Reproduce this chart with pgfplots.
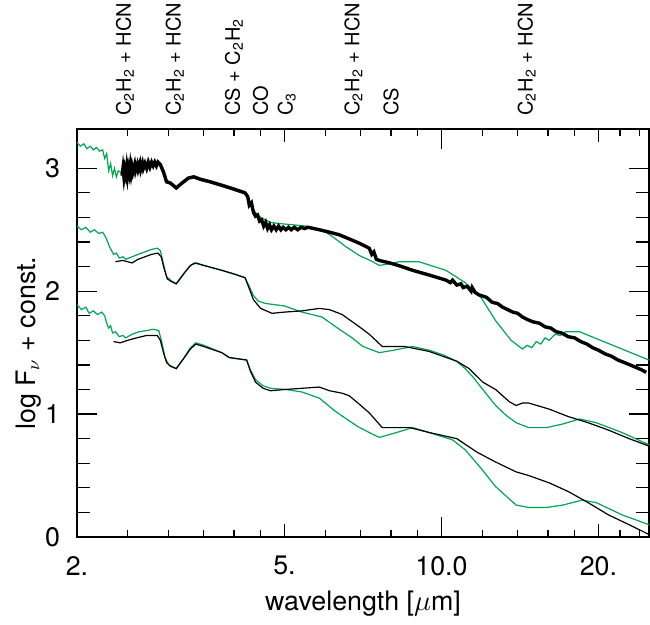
\documentclass[border=0pt]{standalone}
\usepackage{fontspec}
\setmainfont{TeX Gyre Heros}
\usepackage{pgfplots}
\pgfplotsset{compat=1.18}
\definecolor{modelgreen}{RGB}{0,166,81}
\newcommand{\sub}[1]{\textsubscript{#1}}
\begin{document}
\begin{tikzpicture}
% long ticks: y axis and the 10 micron tick
\begin{axis}[
  scale only axis, width=286pt, height=204pt,
  xmode=log, xmin=2, xmax=25, ymin=0, ymax=3.32,
  axis line style={line width=0.8pt},
  tick align=inside,
  every tick/.style={black, line width=0.6pt},
  major tick length=10pt, minor tick length=6.5pt,
  xtick={10}, xticklabels={}, xminorticks=false,
  ytick={0,1,2,3}, yticklabels={}, minor y tick num=4,
]
\addplot[draw=none] coordinates {(3,1)};
\end{axis}
\begin{axis}[
  scale only axis, width=286pt, height=204pt,
  xmode=log, xmin=2, xmax=25, ymin=0, ymax=3.32,
  axis line style={line width=0.8pt},
  tick align=inside,
  every tick/.style={black, line width=0.6pt},
  major tick length=6.5pt, minor tick length=3.5pt,
  xtick={2,5,10,20}, xticklabels={2.,5.,10.0,20.},
  minor xtick={2.5,3,3.5,4,4.5,6,7,8,9,12,14,16,18,22,24},
  ytick={0,1,2,3}, yticklabels={0,1,2,3}, minor y tick num=4,
  ticklabel style={font=\fontsize{13.4}{16}\selectfont},
  xticklabel style={yshift=-6pt},
  yticklabel style={xshift=-5pt},
  xlabel={wavelength [$\mu$m]},
  xlabel style={at={(axis description cs:0.5,-0.179)}, anchor=base, font=\fontsize{13.4}{16}\selectfont},
  ylabel={log F$_\nu$ + const.},
  ylabel style={at={(axis description cs:-0.0734,0.475)}, anchor=base, font=\fontsize{13.4}{16}\selectfont},
  clip mode=individual,
]
% top pair: observed (thick black) and model (green)
\addplot[modelgreen, line width=0.6pt] coordinates {
(2.0,3.21)(2.03,3.18)(2.06,3.20)(2.09,3.16)(2.12,3.18)(2.15,3.15)(2.18,3.17)(2.21,3.14)
(2.24,3.15)(2.26,3.08)(2.28,3.12)(2.30,2.98)(2.32,3.04)(2.34,2.94)(2.36,3.00)(2.38,2.93)
(2.40,2.98)(2.44,2.96)(2.5,3.00)(2.6,3.02)(2.7,3.03)(2.8,3.04)(2.88,3.05)(2.93,2.98)
(2.97,2.90)(3.02,2.89)(3.10,2.85)(3.18,2.89)(3.27,2.93)(3.35,2.94)(3.45,2.92)(3.6,2.90)
(3.8,2.87)(4.0,2.84)(4.2,2.81)(4.26,2.76)(4.3,2.70)(4.4,2.64)(4.5,2.60)(4.7,2.56)
(4.9,2.55)(5.2,2.54)(5.5,2.53)(5.9,2.50)(6.2,2.44)(6.57,2.36)(6.96,2.29)(7.3,2.25)
(7.6,2.21)(7.9,2.22)(8.3,2.24)(9.05,2.24)(10.2,2.17)(11.1,2.07)(11.9,1.95)(12.7,1.76)
(13.6,1.60)(14.3,1.53)(14.6,1.56)(14.9,1.54)(15.2,1.59)(15.5,1.57)(15.8,1.62)(16.1,1.60)
(16.5,1.65)(16.9,1.64)(17.3,1.67)(18.4,1.67)(21.3,1.56)(25,1.44)};
\addplot[black, line width=1.7pt] coordinates {
(2.44,2.94)(2.45,3.00)(2.46,2.93)(2.47,2.99)(2.48,2.95)(2.49,3.01)(2.50,2.94)(2.51,3.00)
(2.52,2.96)(2.53,3.02)(2.54,2.96)(2.55,3.01)(2.56,2.97)(2.58,3.03)(2.59,2.98)(2.61,3.03)
(2.62,2.99)(2.64,3.04)(2.65,2.99)(2.67,3.04)(2.68,3.00)(2.70,3.04)(2.72,3.00)(2.74,3.05)
(2.76,3.01)(2.78,3.05)(2.80,3.02)(2.82,3.05)(2.84,3.02)(2.86,3.05)(2.89,3.03)(2.93,2.97)
(2.97,2.89)(3.02,2.88)(3.10,2.84)(3.18,2.88)(3.27,2.92)(3.35,2.93)(3.45,2.91)(3.6,2.89)
(3.8,2.86)(4.0,2.83)(4.2,2.80)(4.25,2.77)(4.28,2.70)(4.32,2.72)(4.36,2.64)(4.40,2.61)
(4.44,2.62)(4.48,2.57)(4.52,2.58)(4.56,2.53)(4.60,2.56)(4.64,2.51)(4.68,2.54)(4.72,2.50)
(4.77,2.53)(4.82,2.50)(4.87,2.53)(4.92,2.50)(4.97,2.52)(5.03,2.50)(5.09,2.52)(5.15,2.50)
(5.22,2.52)(5.3,2.50)(5.38,2.52)(5.46,2.51)(5.55,2.52)(5.83,2.50)(6.1,2.48)(6.36,2.46)
(6.7,2.42)(6.96,2.39)(7.27,2.35)(7.35,2.30)(7.42,2.32)(7.5,2.26)(7.6,2.25)(7.96,2.23)
(8.4,2.20)(8.8,2.17)(9.5,2.13)(10.2,2.09)(10.4,2.07)(10.5,2.09)(10.7,2.05)(10.9,2.06)
(11.0,2.03)(11.2,2.04)(11.4,2.00)(11.45,2.03)(11.6,1.99)(11.8,1.97)(12.0,1.96)(12.2,1.95)
(12.5,1.91)(12.8,1.90)(13.1,1.87)(13.4,1.85)(13.7,1.83)(14.0,1.82)(14.3,1.79)(14.6,1.77)
(15.0,1.75)(15.4,1.74)(15.8,1.71)(16.2,1.70)(16.6,1.67)(17.0,1.66)(17.5,1.63)(18.0,1.62)
(18.5,1.59)(19.0,1.57)(19.5,1.54)(20.0,1.52)(20.6,1.49)(21.2,1.47)(21.8,1.44)(22.4,1.42)
(23.0,1.40)(23.6,1.38)(24.2,1.36)(24.7,1.34)};
% middle pair
\addplot[modelgreen, line width=0.6pt] coordinates {
(2.0,2.53)(2.04,2.50)(2.08,2.52)(2.12,2.48)(2.16,2.50)(2.20,2.47)(2.24,2.48)(2.27,2.44)
(2.29,2.40)(2.31,2.36)(2.33,2.33)(2.35,2.30)(2.38,2.31)(2.41,2.27)(2.45,2.28)(2.48,2.26)
(2.55,2.28)(2.62,2.30)(2.70,2.32)(2.78,2.34)(2.85,2.35)(2.89,2.33)(2.93,2.22)(2.97,2.12)
(3.02,2.09)(3.10,2.06)(3.18,2.12)(3.27,2.19)(3.35,2.23)(3.5,2.21)(3.79,2.17)(4.0,2.14)
(4.2,2.11)(4.28,2.04)(4.35,1.97)(4.45,1.92)(4.6,1.90)(5.0,1.88)(5.4,1.83)(5.9,1.79)
(6.27,1.71)(6.74,1.62)(7.07,1.55)(7.6,1.50)(8.1,1.52)(8.8,1.55)(9.47,1.52)(10.1,1.48)
(10.7,1.43)(11.1,1.37)(11.5,1.30)(11.9,1.22)(12.7,1.07)(13.3,0.99)(13.9,0.93)(14.7,0.89)
(15.9,0.89)(17.1,0.92)(18.4,0.96)(19.8,0.93)(22.2,0.85)(25,0.75)};
\addplot[black, line width=0.6pt] coordinates {
(2.37,2.24)(2.45,2.25)(2.5,2.24)(2.55,2.23)(2.62,2.26)(2.70,2.28)(2.78,2.30)(2.86,2.31)
(2.90,2.28)(2.94,2.18)(2.98,2.10)(3.03,2.08)(3.10,2.06)(3.20,2.14)(3.30,2.21)(3.38,2.23)
(3.5,2.21)(3.79,2.17)(4.0,2.14)(4.2,2.11)(4.28,2.02)(4.36,1.93)(4.5,1.86)(4.73,1.82)
(5.0,1.83)(5.4,1.84)(5.83,1.86)(6.1,1.85)(6.45,1.81)(6.96,1.71)(7.27,1.65)(7.7,1.55)
(8.5,1.55)(9.47,1.51)(10.7,1.43)(11.3,1.37)(12.0,1.26)(12.7,1.20)(13.5,1.10)(13.9,1.07)
(14.3,1.09)(14.7,1.09)(16.1,1.04)(17.5,0.98)(19.1,0.93)(20.9,0.87)(22.9,0.80)(25,0.74)};
% bottom pair
\addplot[modelgreen, line width=0.6pt] coordinates {
(2.0,1.89)(2.04,1.85)(2.08,1.87)(2.11,1.82)(2.15,1.84)(2.19,1.81)(2.23,1.83)(2.26,1.80)
(2.28,1.74)(2.30,1.70)(2.32,1.72)(2.34,1.66)(2.37,1.67)(2.41,1.63)(2.45,1.64)(2.48,1.62)
(2.55,1.65)(2.63,1.67)(2.72,1.68)(2.8,1.69)(2.87,1.68)(2.91,1.58)(2.95,1.46)(3.0,1.40)
(3.1,1.37)(3.2,1.45)(3.3,1.54)(3.38,1.58)(3.5,1.56)(3.79,1.50)(3.92,1.46)(4.23,1.44)
(4.3,1.36)(4.4,1.28)(4.55,1.23)(4.7,1.21)(5.04,1.20)(5.4,1.18)(5.83,1.13)(6.27,1.02)
(6.9,0.90)(7.27,0.85)(7.6,0.81)(8.2,0.85)(8.8,0.89)(9.47,0.85)(10.5,0.79)(11.1,0.71)
(11.9,0.56)(12.7,0.41)(13.9,0.26)(14.7,0.24)(15.9,0.24)(17.1,0.26)(18.6,0.30)(19.8,0.28)
(22.2,0.18)(25,0.10)};
\addplot[black, line width=0.6pt] coordinates {
(2.35,1.59)(2.42,1.58)(2.5,1.60)(2.6,1.62)(2.72,1.64)(2.85,1.64)(2.89,1.60)(2.93,1.50)
(2.97,1.42)(3.02,1.39)(3.1,1.37)(3.2,1.45)(3.3,1.53)(3.38,1.57)(3.5,1.55)(3.79,1.50)
(3.92,1.46)(4.23,1.44)(4.3,1.35)(4.4,1.26)(4.55,1.21)(4.7,1.19)(5.0,1.20)(5.4,1.21)
(5.83,1.22)(6.1,1.19)(6.45,1.17)(6.65,1.15)(6.96,1.08)(7.27,1.01)(7.7,0.89)(8.7,0.89)
(9.47,0.85)(10.7,0.80)(11.7,0.69)(12.7,0.61)(13.9,0.53)(14.7,0.50)(16.1,0.44)(17.5,0.37)
(19.1,0.28)(20.9,0.18)(22.9,0.10)(25,0.02)};
% band identifications above the frame
\begin{scope}[every node/.style={rotate=90, anchor=west, inner sep=0pt, font=\fontsize{10}{12}\selectfont}]
\node at ([yshift=6.5pt]axis cs:2.47,3.32) {C\sub{2}H\sub{2} + HCN};
\node at ([yshift=6.5pt]axis cs:3.08,3.32) {C\sub{2}H\sub{2} + HCN};
\node at ([yshift=6.5pt]axis cs:4.0,3.32) {CS + C\sub{2}H\sub{2}};
\node at ([yshift=6.5pt]axis cs:4.5,3.32) {CO};
\node at ([yshift=6.5pt]axis cs:5.05,3.32) {C\sub{3}};
\node at ([yshift=6.5pt]axis cs:6.78,3.32) {C\sub{2}H\sub{2} + HCN};
\node at ([yshift=6.5pt]axis cs:8.0,3.32) {CS};
\node at ([yshift=6.5pt]axis cs:14.56,3.32) {C\sub{2}H\sub{2} + HCN};
\end{scope}
\coordinate (sw) at (rel axis cs:0,0);
\end{axis}
\pgfresetboundingbox
\path (sw) ++(-38.5pt,-44pt) rectangle ++(325pt,312.5pt);
\end{tikzpicture}
\end{document}
